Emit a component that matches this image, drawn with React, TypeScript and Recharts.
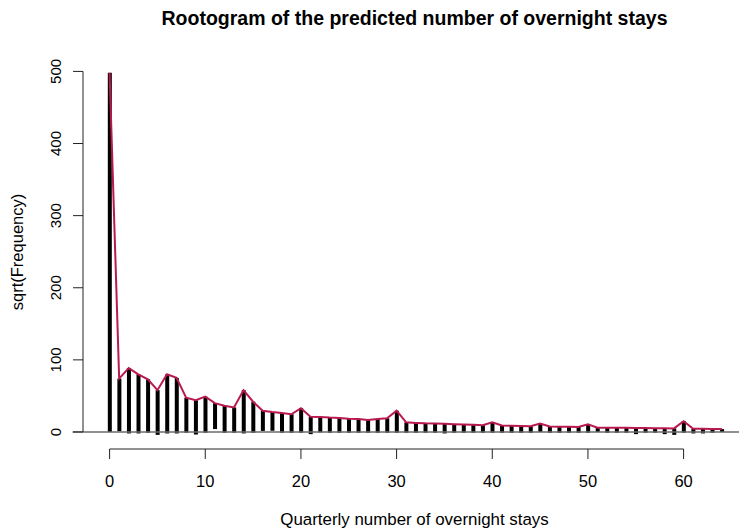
import {
  ComposedChart,
  Bar,
  Line,
  XAxis,
  YAxis,
  ReferenceLine,
} from 'recharts';

// number of overnight stays (categories)
const stays = [
  0, 1, 2, 3, 4, 5, 6, 7, 8, 9, 10, 11, 12, 13, 14, 15, 16, 17, 18, 19, 20,
  21, 22, 23, 24, 25, 26, 27, 28, 29, 30, 31, 32, 33, 34, 35, 36, 37, 38, 39, 40,
  41, 42, 43, 44, 45, 46, 47, 48, 49, 50, 51, 52, 53, 54, 55, 56, 57, 58, 59, 60,
  61, 62, 63, 64,
];

// sqrt of expected frequency (red curve)
const expectedSqrt = [
  498, 74, 88.6, 80, 73, 58, 80, 75, 47.5, 44, 49, 40, 36.5, 34, 58, 42, 29.5, 27.7, 26.3, 24.5, 33,
  21, 20.8, 20, 19.5, 18.5, 18, 16.5, 18, 19, 29.5, 13.4, 12.6, 12, 11.7, 11.3, 10.8, 10.5, 10, 9.5, 13.5,
  9, 8.5, 8.2, 8, 11.6, 7.5, 7.3, 7.1, 7, 10.8, 6, 6, 5.8, 5.7, 5.5, 5.4, 5.2, 5.1, 5, 15,
  4.5, 4.4, 4.2, 4,
];

// sqrt of observed frequency (hanging bars)
const observedSqrt = [
  498, 73, 90.6, 82, 74, 62, 82, 77, 48.5, 47.5, 50, 36, 37.5, 35, 60, 43, 28, 26, 27.3, 25.5, 34,
  24, 21.3, 21, 20.5, 19.5, 19, 17.5, 19, 20, 30.5, 14.4, 13.6, 13, 12.7, 13.3, 11.8, 11.5, 11, 10.5, 14.5,
  10, 9.5, 9.2, 9, 11.6, 8.5, 8.3, 8.1, 8, 11.8, 6, 7, 6.8, 6.7, 8.5, 6.4, 6.2, 8.1, 9, 16,
  6.5, 6.4, 5.2, 4,
];

const xTicks = [0, 10, 20, 30, 40, 50, 60];
const yTicks = [0, 100, 200, 300, 400, 500];

const W = 739;
const H = 531;
const FONT = '"Liberation Sans", Arial, Helvetica, sans-serif';
const RED = '#B8194F';

const XDOMAIN: [number, number] = [-2.78, 65.79];
const YDOMAIN: [number, number] = [-23.6, 518.6];

const XTick = ({ x, y, payload }: any) => (
  <text x={x} y={y + 11} textAnchor="middle" fontSize={16.5} fontFamily={FONT} fill="#000">
    {payload.value}
  </text>
);

const YTick = ({ x, y, payload }: any) => (
  <text
    x={0}
    y={0}
    transform={`translate(${x + 3},${y}) rotate(-90)`}
    textAnchor="middle"
    fontSize={15}
    fontFamily={FONT}
    fill="#000"
  >
    {payload.value}
  </text>
);

export default function App() {
  const data = stays.map((s, i) => ({
    stays: s,
    expected: expectedSqrt[i],
    hang: [expectedSqrt[i] - observedSqrt[i], expectedSqrt[i]],
  }));

  return (
    <div style={{ position: 'absolute', left: 0, top: 0, width: W, height: H, background: '#fff' }}>
      <ComposedChart
        width={W}
        height={H}
        data={data}
        margin={{ top: 58, right: 0, bottom: 0, left: 0 }}
      >
        <XAxis
          dataKey="stays"
          type="number"
          domain={XDOMAIN}
          allowDataOverflow
          ticks={xTicks}
          interval={0}
          height={82}
          axisLine={false}
          tickLine={{ stroke: '#222' }}
          tickSize={10}
          tickMargin={17}
          tick={<XTick />}
        />
        <YAxis
          type="number"
          domain={YDOMAIN}
          allowDataOverflow
          ticks={yTicks}
          interval={0}
          width={83}
          axisLine={false}
          tickLine={{ stroke: '#222' }}
          tickSize={10}
          tickMargin={15}
          tick={<YTick />}
        />
        {/* zero reference line */}
        <ReferenceLine
          segment={[{ x: -3.87, y: 0 }, { x: 65.79, y: 0 }]}
          stroke="#6b6b6b"
          strokeWidth={1.3}
          ifOverflow="visible"
        />
        {/* R-style axis lines spanning only tick range */}
        <ReferenceLine
          segment={[{ x: 0, y: YDOMAIN[0] }, { x: 60, y: YDOMAIN[0] }]}
          stroke="#222"
          ifOverflow="visible"
        />
        <ReferenceLine
          segment={[{ x: XDOMAIN[0], y: 0 }, { x: XDOMAIN[0], y: 500 }]}
          stroke="#222"
          ifOverflow="visible"
        />
        <Bar dataKey="hang" fill="#000" barSize={4} isAnimationActive={false} />
        <Line
          type="linear"
          dataKey="expected"
          stroke={RED}
          strokeWidth={2}
          dot={false}
          isAnimationActive={false}
        />
      </ComposedChart>
      <div
        style={{
          position: 'absolute',
          left: 83,
          width: 663,
          top: 7,
          textAlign: 'center',
          fontFamily: FONT,
          fontWeight: 'bold',
          fontSize: 19.5,
          color: '#000',
          whiteSpace: 'nowrap',
        }}
      >
        Rootogram of the predicted number of overnight stays
      </div>
      <div
        style={{
          position: 'absolute',
          left: 83,
          width: 663,
          top: 510,
          textAlign: 'center',
          fontFamily: FONT,
          fontSize: 16.9,
          color: '#000',
          whiteSpace: 'nowrap',
        }}
      >
        Quarterly number of overnight stays
      </div>
      <svg style={{ position: 'absolute', left: 0, top: 0 }} width={40} height={H}>
        <text
          x={0}
          y={0}
          transform="translate(23,252) rotate(-90)"
          textAnchor="middle"
          fontSize={16.5}
          fontFamily={FONT}
          fill="#000"
        >
          sqrt(Frequency)
        </text>
      </svg>
    </div>
  );
}
